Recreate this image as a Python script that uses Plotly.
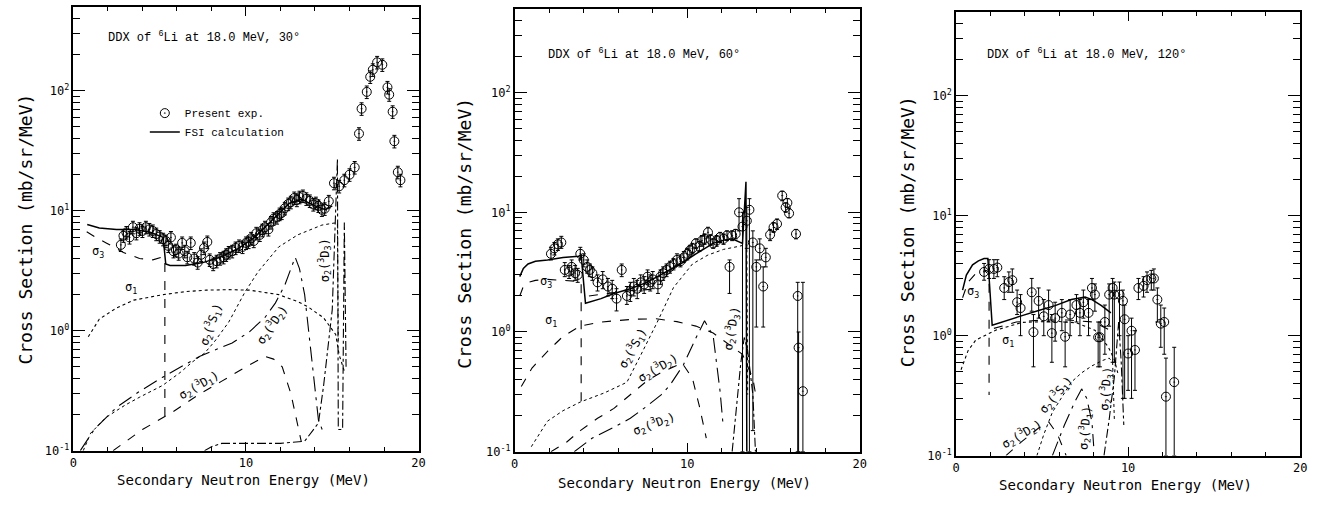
import math
import plotly.graph_objects as go

W, H = 1326, 506

# ====================== Panel 1 : 30 deg ======================
p1_exp_x = [2.75, 2.9, 3.07, 3.25, 3.45, 3.65, 3.83, 4.0, 4.2, 4.4, 4.6, 4.8, 5.0, 5.2, 5.36,
            5.5, 5.65, 5.8, 5.94, 6.1, 6.3, 6.45, 6.6, 6.8, 7.0, 7.2, 7.4, 7.57, 7.76, 7.9, 8.1,
            8.3, 8.5, 8.7, 8.85, 9.0, 9.2, 9.4, 9.6, 9.8, 10.0, 10.15, 10.3, 10.45, 10.6, 10.8,
            10.95, 11.1, 11.3, 11.45, 11.6, 11.8, 11.95, 12.07, 12.25, 12.45, 12.6, 12.8, 12.95,
            13.1, 13.3, 13.5, 13.7, 13.9, 14.05, 14.2, 14.4, 14.56, 14.8, 15.1, 15.4, 15.7, 16.0,
            16.3, 16.55, 16.7, 17.0, 17.2, 17.35, 17.6, 17.9, 18.2, 18.3, 18.5, 18.6, 18.8, 18.95]
p1_exp_y = [5.2, 6.2, 6.6, 6.0, 7.3, 6.5, 7.1, 6.8, 7.3, 7.0, 6.8, 6.4, 6.1, 5.8, 5.6,
            5.1, 6.0, 4.6, 4.7, 4.4, 5.4, 4.6, 4.1, 5.4, 4.0, 3.7, 4.3, 4.9, 5.5, 3.9, 3.6,
            3.8, 4.0, 4.1, 4.3, 4.5, 4.6, 4.9, 5.1, 5.0, 5.4, 5.5, 5.9, 5.6, 6.5, 6.3,
            6.9, 7.3, 7.0, 8.0, 8.6, 8.8, 9.4, 9.6, 10.5, 11.4, 11.8, 12.8, 12.3,
            13.0, 13.3, 12.6, 12.1, 11.3, 11.6, 11.0, 10.2, 10.4, 12.0, 17.0, 16.0, 18.0, 20.0,
            23.0, 44.0, 71.0, 98.0, 131.0, 150.0, 173.0, 165.0, 107.0, 93.0, 67.0, 38.0, 21.0, 18.0]

p1_fsi_x = [0.8, 1.5, 2.5, 3.5, 4.5, 5.2, 5.35, 5.6, 6.5, 7.5, 8.5, 9.5, 10.5, 11.5, 12.5, 13.2, 14.0, 14.6, 15.0]
p1_fsi_y = [7.7, 7.2, 7.0, 7.0, 6.6, 6.0, 3.6, 3.5, 3.5, 3.7, 4.1, 4.8, 6.0, 8.3, 11.5, 12.5, 11.0, 10.2, 11.0]

p1_s3_x = [0.77, 1.3, 1.9, 2.9, 3.83, 4.6, 5.1, 5.3, 5.3]
p1_s3_y = [6.7, 6.0, 5.4, 4.5, 4.0, 3.9, 4.1, 4.0, 0.19]

p1_s1_x = [0.86, 1.5, 2.5, 3.5, 5.2, 6.5, 7.7, 9.0, 10.2, 11.9, 13.0, 13.6, 14.5, 15.2, 15.4, 15.7]
p1_s1_y = [0.89, 1.25, 1.55, 1.8, 2.0, 2.12, 2.18, 2.2, 2.18, 2.0, 1.75, 1.58, 1.28, 0.93, 0.63, 0.46]

p1_3s1_x = [0.57, 1.0, 1.9, 3.0, 3.85, 5.17, 6.2, 6.9, 7.6, 8.2, 9.0, 9.94, 10.7, 11.9, 13.0, 14.4, 15.1, 15.3, 15.35]
p1_3s1_y = [0.1, 0.14, 0.19, 0.24, 0.28, 0.35, 0.45, 0.55, 0.65, 0.82, 1.18, 2.1, 3.1, 5.0, 6.3, 7.6, 7.9, 7.9, 0.8]

p1_3d2_x = [0.4, 1.2, 2.5, 3.8, 5.17, 6.2, 7.3, 8.3, 9.2, 10.2, 11.1, 11.7, 12.25, 12.85, 13.1, 13.4, 13.8, 14.2, 14.5]
p1_3d2_y = [0.1, 0.15, 0.23, 0.31, 0.41, 0.5, 0.61, 0.7, 0.79, 0.98, 1.29, 1.7, 2.4, 4.1, 3.3, 2.0, 0.63, 0.18, 0.14]

p1_3d1_x = [2.3, 4.0, 5.75, 7.2, 8.6, 10.0, 11.1, 11.6, 12.1, 12.6, 13.2]
p1_3d1_y = [0.1, 0.15, 0.21, 0.29, 0.38, 0.5, 0.61, 0.58, 0.5, 0.3, 0.12]

p1_3d3_x = [7.6, 8.0, 8.6, 10.0, 12.0, 13.4, 14.2, 14.5, 14.8, 15.0, 15.3, 15.35, 15.6, 15.7, 15.8]
p1_3d3_y = [0.1, 0.108, 0.115, 0.115, 0.115, 0.12, 0.17, 0.35, 0.81, 1.5, 27.0, 0.15, 0.15, 8.0, 0.5]

# ====================== Panel 2 : 60 deg ======================
p2_exp_x = [2.1, 2.3, 2.5, 2.7, 2.9, 3.15, 3.3, 3.5, 3.65, 3.8, 4.0, 4.2, 4.35, 4.5, 4.8, 5.1,
            5.4, 5.65, 5.9, 6.2, 6.5, 6.7, 6.9, 7.1, 7.3, 7.5, 7.7, 7.85, 8.0, 8.3, 8.45, 8.6,
            8.8, 9.0, 9.2, 9.4, 9.6, 9.8, 10.0, 10.15, 10.3, 10.5, 10.7, 10.85, 11.0, 11.2,
            11.35, 11.5, 11.7, 11.9, 12.1, 12.3, 12.45, 12.6, 12.8, 13.0, 13.2, 13.45, 13.6,
            13.8, 14.0, 14.2, 14.4, 14.55, 14.8, 15.0, 15.2, 15.5, 15.7, 15.8, 15.9, 16.3,
            16.4, 16.45, 16.7]
p2_exp_y = [4.5, 5.0, 5.4, 5.6, 3.3, 3.2, 3.5, 3.1, 3.0, 4.5, 4.0, 3.5, 3.3, 3.1, 2.6, 2.75,
            2.4, 2.3, 1.9, 3.3, 2.0, 2.2, 2.4, 2.3, 2.6, 2.5, 2.9, 2.6, 2.75, 2.5, 2.9, 3.1,
            3.3, 3.5, 3.7, 4.0, 3.9, 4.2, 4.5, 4.8, 5.0, 5.5, 5.2, 5.8, 6.0, 6.8,
            5.9, 5.5, 5.8, 6.2, 6.0, 6.4, 3.5, 6.4, 6.6, 10.0, 7.6, 8.5, 10.5,
            5.6, 3.5, 5.0, 2.4, 4.2, 6.5, 7.5, 8.0, 13.8, 11.0, 12.0, 9.8, 6.6,
            2.0, 0.74, 0.32]
p2_exp_lo = [4.0, 4.4, 4.8, 5.0, 2.9, 2.8, 3.0, 2.7, 2.6, 4.0, 3.5, 3.1, 2.9, 2.7, 2.2, 2.3,
             2.0, 1.9, 1.5, 2.9, 1.7, 1.8, 2.0, 1.9, 2.2, 2.1, 2.5, 2.2, 2.3, 2.1, 2.5, 2.7,
             2.9, 3.1, 3.3, 3.6, 3.5, 3.8, 4.0, 4.3, 4.5, 5.0, 4.7, 5.2, 5.4, 6.1,
             5.3, 5.0, 5.2, 5.6, 5.4, 5.8, 2.1, 5.8, 6.0, 7.0, 0.1, 5.0, 0.1,
             0.15, 1.1, 4.0, 1.1, 3.5, 5.8, 6.8, 7.2, 12.5, 10.0, 11.0, 9.0, 6.0,
             0.1, 0.1, 0.1]
p2_exp_hi = [5.1, 5.6, 6.0, 6.3, 3.8, 3.6, 4.0, 3.6, 3.4, 5.1, 4.5, 4.0, 3.7, 3.5, 3.0, 3.2,
             2.8, 2.7, 2.3, 3.7, 2.4, 2.6, 2.8, 2.7, 3.0, 2.9, 3.3, 3.0, 3.2, 2.9, 3.3, 3.5,
             3.7, 3.9, 4.1, 4.5, 4.4, 4.7, 5.0, 5.3, 5.5, 6.0, 5.7, 6.4, 6.6, 7.5,
             6.5, 6.0, 6.4, 6.8, 6.6, 7.0, 4.0, 7.0, 7.2, 13.0, 10.0, 11.0, 13.0,
             7.0, 4.0, 6.0, 3.5, 5.0, 7.2, 8.2, 8.8, 15.0, 12.0, 13.0, 10.8, 7.2,
             2.6, 1.0, 2.6]

p2_fsi_x = [0.29, 0.5, 0.77, 1.2, 1.9, 2.8, 3.7, 3.85, 4.1, 5.0, 5.75, 6.7, 7.66, 8.6, 9.6, 10.5, 11.5, 12.0, 12.6, 13.2, 13.4, 13.45]
p2_fsi_y = [2.9, 3.4, 3.7, 3.9, 4.0, 4.2, 4.3, 4.4, 1.74, 1.9, 2.1, 2.3, 2.6, 3.1, 3.7, 4.5, 5.5, 5.8, 6.0, 5.5, 18.0, 0.1]

p2_s3_x = [0.29, 0.5, 0.77, 1.2, 1.9, 2.8, 3.7, 3.85, 3.85, None, 4.3, 5.5, 6.5, 7.5, 8.3]
p2_s3_y = [2.0, 2.4, 2.6, 2.7, 2.75, 2.7, 2.65, 2.6, 0.25, None, 2.0, 2.1, 2.2, 2.25, 2.3]

p2_s1_x = [0.38, 1.0, 1.9, 2.8, 3.8, 4.8, 5.75, 7.0, 8.2, 9.4, 10.5, 11.5, 12.45, 13.2, 13.8, 14.0]
p2_s1_y = [0.35, 0.5, 0.69, 0.92, 1.12, 1.2, 1.24, 1.28, 1.29, 1.22, 1.12, 0.98, 0.78, 0.65, 0.41, 0.28]

p2_3s1_x = [0.96, 1.9, 2.8, 3.8, 5.2, 6.5, 7.3, 8.25, 9.2, 10.3, 11.2, 12.1, 13.0, 13.45, 13.5]
p2_3s1_y = [0.11, 0.18, 0.22, 0.26, 0.31, 0.38, 0.64, 1.2, 2.35, 3.7, 4.4, 4.9, 5.2, 5.4, 0.3]

p2_3d2_x = [3.45, 4.5, 5.75, 6.7, 7.66, 8.5, 9.0, 9.77, 10.5, 11.0, 11.5, 11.9, 12.07]
p2_3d2_y = [0.1, 0.13, 0.16, 0.19, 0.24, 0.3, 0.36, 0.53, 0.89, 1.24, 0.93, 0.32, 0.17]

p2_3d1_x = [2.1, 3.0, 3.8, 4.8, 5.75, 6.7, 7.66, 8.5, 9.2, 9.7, 10.3, 10.7, 11.1]
p2_3d1_y = [0.1, 0.12, 0.15, 0.19, 0.23, 0.3, 0.39, 0.46, 0.51, 0.55, 0.41, 0.24, 0.13]

p2_3d3_x = [12.6, 12.9, 13.1, 13.3, 13.5, 13.8, 13.95]
p2_3d3_y = [0.1, 0.3, 0.55, 0.9, 0.7, 0.3, 0.1]

# ====================== Panel 3 : 120 deg ======================
p3_exp_x = [1.63, 1.92, 2.2, 2.4, 2.8, 3.07, 3.27, 3.55, 3.75, 4.4, 4.5, 4.8, 5.1, 5.38, 5.57,
            5.76, 6.15, 6.34, 6.63, 7.0, 7.2, 7.4, 7.7, 7.9, 8.07, 8.26, 8.36, 8.65, 8.9, 9.1,
            9.2, 9.5, 9.7, 9.8, 10.0, 10.2, 10.4, 10.6, 10.9, 11.1, 11.35, 11.5, 11.7, 11.9,
            12.1, 12.2, 12.68]
p3_exp_y = [3.4, 3.6, 3.6, 3.7, 2.5, 2.8, 2.9, 1.9, 1.7, 2.3, 1.07, 1.95, 1.45, 1.8, 1.05,
            1.4, 1.55, 0.98, 1.5, 1.8, 1.55, 1.9, 1.55, 2.5, 2.2, 0.97, 0.97, 1.3, 2.2, 2.5,
            2.2, 2.2, 1.95, 1.37, 0.71, 1.1, 0.76, 2.5, 2.6, 2.9, 3.0, 3.0, 2.0, 1.26,
            1.3, 0.31, 0.41]
p3_exp_lo = [2.9, 3.0, 3.0, 3.1, 2.0, 2.3, 2.3, 1.5, 1.0, 1.6, 0.55, 1.4, 1.0, 1.3, 0.6,
             0.9, 1.1, 0.55, 1.0, 1.3, 1.0, 1.4, 1.0, 2.0, 1.6, 0.55, 0.55, 0.7, 1.2, 0.6,
             0.6, 1.0, 0.3, 0.3, 0.35, 0.3, 0.35, 2.0, 2.1, 2.3, 2.4, 2.4, 1.3, 0.8,
             0.7, 0.1, 0.1]
p3_exp_hi = [4.0, 4.3, 4.3, 4.3, 3.1, 3.4, 3.6, 2.4, 2.2, 3.0, 1.5, 2.5, 2.0, 2.4, 1.5,
             1.9, 2.0, 1.3, 2.0, 2.2, 2.0, 2.4, 2.0, 3.0, 2.7, 1.3, 1.3, 1.8, 2.7, 3.0,
             2.8, 2.8, 2.4, 1.8, 1.0, 1.4, 1.1, 3.0, 3.1, 3.4, 3.5, 3.6, 2.5, 1.8,
             1.7, 0.65, 0.8]

p3_fsi_x = [0.38, 0.6, 0.96, 1.3, 1.63, 1.85, 2.1, 3.0, 3.84, 4.8, 5.76, 6.7, 7.5, 7.9, 8.45, 9.0]
p3_fsi_y = [2.4, 3.2, 3.9, 4.2, 4.4, 4.4, 1.22, 1.35, 1.47, 1.62, 1.78, 2.0, 2.1, 2.0, 1.78, 1.55]

p3_s3_x = [0.38, 0.7, 1.15, 1.5, 1.73, 1.92, 1.92, None, 2.2, 3.5, 5.0, 6.5, 8.0, 9.0]
p3_s3_y = [2.07, 2.8, 3.3, 3.45, 3.5, 3.4, 0.32, None, 1.15, 1.3, 1.35, 1.35, 1.3, 1.1]

p3_s1_x = [0.29, 0.7, 1.15, 2.3, 3.84, 5.76, 7.0, 8.07, 8.84, 9.2, 9.4]
p3_s1_y = [0.52, 0.75, 0.92, 1.11, 1.29, 1.32, 1.28, 1.11, 0.81, 0.63, 0.49]

p3_3s1_x = [4.7, 5.1, 5.6, 6.2, 6.7, 7.3, 7.9, 8.5, 8.9, 9.1, 9.2]
p3_3s1_y = [0.1, 0.15, 0.23, 0.32, 0.41, 0.49, 0.56, 0.62, 0.65, 0.6, 0.2]

p3_3d2_x = [2.9, 3.8, 4.8, 5.4, 5.9, 6.4]
p3_3d2_y = [0.1, 0.13, 0.17, 0.19, 0.15, 0.1]

p3_3d1_x = [5.6, 6.3, 6.9, 7.3, 7.6, 7.9, 8.0]
p3_3d1_y = [0.1, 0.18, 0.28, 0.36, 0.3, 0.19, 0.12]

p3_3d3_x = [8.6, 8.9, 9.2, 9.45, 9.6, 9.7, 9.75]
p3_3d3_y = [0.1, 0.2, 0.45, 1.3, 0.6, 0.25, 0.18]

# ---- text ----
titles = ["DDX of <sup>6</sup>Li at 18.0 MeV, 30°",
          "DDX of <sup>6</sup>Li at 18.0 MeV, 60°",
          "DDX of <sup>6</sup>Li at 18.0 MeV, 120°"]
x_title = "Secondary Neutron Energy (MeV)"
y_title = "Cross Section (mb/sr/MeV)"
y_tickvals = [0.1, 1, 10, 100]
y_ticktext = ["10<sup>-1</sup>", "10<sup>0</sup>", "10<sup>1</sup>", "10<sup>2</sup>"]
x_tickvals = [0, 10, 20]

S3 = "σ<sub>3</sub>"
S1 = "σ<sub>1</sub>"
L3S1 = "σ<sub>2</sub>(<sup>3</sup>S<sub>1</sub>)"
L3D1 = "σ<sub>2</sub>(<sup>3</sup>D<sub>1</sub>)"
L3D2 = "σ<sub>2</sub>(<sup>3</sup>D<sub>2</sub>)"
L3D3 = "σ<sub>2</sub>(<sup>3</sup>D<sub>3</sub>)"

# labels: (x, y, text, angle)
p1_labels = [(1.44, 4.5, S3, 0), (3.35, 2.27, S1, 0), (7.95, 1.12, L3S1, -70),
             (11.5, 1.12, L3D2, -55), (7.3, 0.35, L3D1, -30), (14.55, 3.9, L3D3, -90)]
p2_labels = [(1.84, 2.6, S3, 0), (2.1, 1.24, S1, 0), (6.85, 0.73, L3S1, -60),
             (8.3, 0.5, L3D2, -30), (8.05, 0.17, L3D2, -20), (12.6, 1.07, L3D3, -80)]
p3_labels = [(0.98, 2.3, S3, 0), (3.0, 0.9, S1, 0), (5.8, 0.32, L3S1, -50),
             (3.85, 0.15, L3D2, -30), (7.5, 0.17, L3D1, -85), (8.7, 0.36, L3D3, -85)]

# ---- layout geometry (pixels) ----
panels = [  # left, right, top, bottom
    (70, 418, 7, 457),
    (515, 863, 9, 458),
    (960, 1307, 12, 462),
]
MONO = "DejaVu Sans Mono"
TYPE = "Liberation Mono"

fig = go.Figure()

def add_exp(ax, x, y, lo=None, hi=None, pct=None, name=None, legend=False):
    if pct is not None:
        err = dict(type="percent", value=pct, color="black", thickness=1, width=2)
    else:
        err = dict(type="data", symmetric=False,
                   array=[h - v for h, v in zip(hi, y)],
                   arrayminus=[v - l for l, v in zip(lo, y)],
                   color="black", thickness=1, width=2)
    fig.add_trace(go.Scatter(
        x=x, y=y, mode="markers", xaxis="x" + ax, yaxis="y" + ax,
        marker=dict(symbol="circle-open-dot", size=9, color="black", line=dict(width=1, color="black")),
        error_y=err, name=name, showlegend=legend, legendrank=1))

def add_line(ax, x, y, dash, width=1.1, name=None, legend=False):
    fig.add_trace(go.Scatter(
        x=x, y=y, mode="lines", xaxis="x" + ax, yaxis="y" + ax,
        line=dict(color="black", width=width, dash=dash),
        name=name, showlegend=legend, legendrank=2, connectgaps=False))

# panel 1
add_line("", p1_s3_x, p1_s3_y, "dash")
add_line("", p1_s1_x, p1_s1_y, "dot")
add_line("", p1_3s1_x, p1_3s1_y, "dot", 1.0)
add_line("", p1_3d2_x, p1_3d2_y, "longdashdot")
add_line("", p1_3d1_x, p1_3d1_y, "dash")
add_line("", p1_3d3_x, p1_3d3_y, "dashdot")
add_exp("", p1_exp_x, p1_exp_y, pct=12, name="Present exp.", legend=True)
add_line("", p1_fsi_x, p1_fsi_y, "solid", 1.5, name="FSI calculation", legend=True)

# panel 2
add_line("2", p2_s3_x, p2_s3_y, "dash")
add_line("2", p2_s1_x, p2_s1_y, "dash")
add_line("2", p2_3s1_x, p2_3s1_y, "dot", 1.0)
add_line("2", p2_3d2_x, p2_3d2_y, "longdashdot")
add_line("2", p2_3d1_x, p2_3d1_y, "dash")
add_line("2", p2_3d3_x, p2_3d3_y, "dashdot")
add_exp("2", p2_exp_x, p2_exp_y, lo=p2_exp_lo, hi=p2_exp_hi)
add_line("2", p2_fsi_x, p2_fsi_y, "solid", 1.5)

# panel 3
add_line("3", p3_s3_x, p3_s3_y, "dash")
add_line("3", p3_s1_x, p3_s1_y, "dot")
add_line("3", p3_3s1_x, p3_3s1_y, "dot", 1.0)
add_line("3", p3_3d2_x, p3_3d2_y, "dash")
add_line("3", p3_3d1_x, p3_3d1_y, "longdashdot")
add_line("3", p3_3d3_x, p3_3d3_y, "dashdot")
add_exp("3", p3_exp_x, p3_exp_y, lo=p3_exp_lo, hi=p3_exp_hi)
add_line("3", p3_fsi_x, p3_fsi_y, "solid", 1.5)

minor_y = [k * 10 ** e for e in (-1, 0, 1, 2) for k in range(2, 10) if k * 10 ** e < 500]

layout = dict(
    width=W, height=H, margin=dict(l=0, r=0, t=0, b=0),
    paper_bgcolor="white", plot_bgcolor="white",
    showlegend=True,
    legend=dict(x=142 / W, y=1 - 100 / H, xanchor="left", yanchor="top",
                font=dict(family=TYPE, size=11, color="black"),
                bgcolor="rgba(0,0,0,0)", tracegroupgap=0, itemwidth=30),
    annotations=[],
)

for i, (l, r, t, b) in enumerate(panels):
    sfx = "" if i == 0 else str(i + 1)
    layout["xaxis" + sfx] = dict(
        domain=[l / W, r / W], range=[0, 20], anchor="y" + sfx,
        tickvals=x_tickvals, ticks="inside", ticklen=9, tickwidth=1.2, tickcolor="black",
        showline=True, linecolor="black", linewidth=1.6, mirror="allticks",
        showgrid=False, zeroline=False,
        tickfont=dict(family=MONO, size=12, color="black"),
        minor=dict(dtick=2, ticks="inside", ticklen=4, tickcolor="black", showgrid=False),
    )
    layout["yaxis" + sfx] = dict(
        domain=[1 - b / H, 1 - t / H], type="log", range=[-1, 2.7], anchor="x" + sfx,
        tickvals=y_tickvals, ticktext=y_ticktext,
        ticks="inside", ticklen=12, tickwidth=1.2, tickcolor="black",
        showline=True, linecolor="black", linewidth=1.6, mirror="allticks",
        showgrid=False, zeroline=False,
        tickfont=dict(family=MONO, size=12, color="black"),
        minor=dict(tickvals=minor_y, ticks="inside", ticklen=7, tickcolor="black", showgrid=False),
    )

fig.update_layout(**layout)

# titles inside panels
title_pos = [(103, 38), (547, 55), (989, 55)]
for (tx, ty), txt in zip(title_pos, titles):
    fig.add_annotation(x=tx / W, y=1 - ty / H, xref="paper", yref="paper", text=txt,
                       showarrow=False, xanchor="left", yanchor="middle",
                       font=dict(family=TYPE, size=12, color="black"))

# axis titles
ytitle_pos = [(22, 232), (465, 237), (911, 235)]
for (tx, ty) in ytitle_pos:
    fig.add_annotation(x=tx / W, y=1 - ty / H, xref="paper", yref="paper", text=y_title,
                       textangle=-90, showarrow=False, xanchor="center", yanchor="middle",
                       font=dict(family=MONO, size=18, color="black"))
xtitle_pos = [(242, 487), (686, 490), (1131, 492)]
for (tx, ty) in xtitle_pos:
    fig.add_annotation(x=tx / W, y=1 - ty / H, xref="paper", yref="paper", text=x_title,
                       showarrow=False, xanchor="center", yanchor="middle",
                       font=dict(family=MONO, size=14, color="black"))

# curve labels
for sfx, labels in (("", p1_labels), ("2", p2_labels), ("3", p3_labels)):
    for (lx, ly, txt, ang) in labels:
        fig.add_annotation(x=lx, y=math.log10(ly), xref="x" + sfx, yref="y" + sfx, text=txt,
                           textangle=ang, showarrow=False,
                           font=dict(family=MONO, size=12, color="black"))

fig.write_html("out.html")
